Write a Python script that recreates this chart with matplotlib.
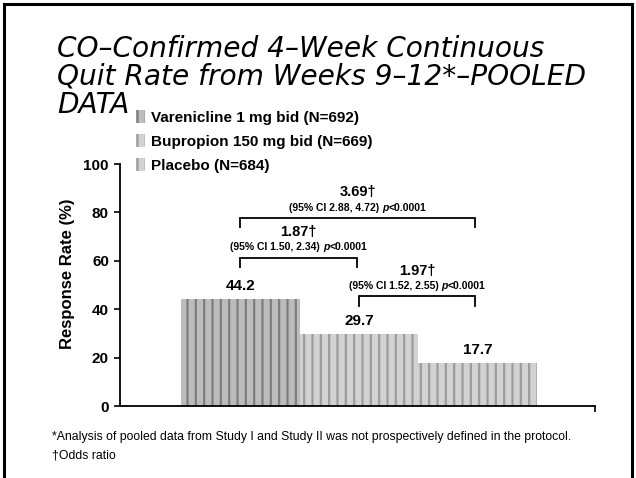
import numpy as np
import matplotlib
matplotlib.use("Agg")
import matplotlib.pyplot as plt
from matplotlib.patches import Rectangle

plt.rcParams['font.family'] = ['Liberation Sans', 'DejaVu Sans']
plt.rcParams['hatch.linewidth'] = 1.6

# data
groups = ['Varenicline 1 mg bid (N=692)', 'Bupropion 150 mg bid (N=669)', 'Placebo (N=684)']
rates = [44.2, 29.7, 17.7]
pairs = [(0, 1), (0, 2), (1, 2)]
odds = ['1.87', '3.69', '1.97']
cis = ['1.50, 2.34', '2.88, 4.72', '1.52, 2.55']
pval = '<0.0001'
yticks = [0, 20, 40, 60, 80, 100]

title_lines = ['CO\u2013Confirmed 4\u2013Week Continuous',
               'Quit Rate from Weeks 9\u201312*\u2013POOLED',
               'DATA']
note1 = '*Analysis of pooled data from Study I and Study II was not prospectively defined in the protocol.'
note2 = '\u2020Odds ratio'

W, H = 636, 478
fig = plt.figure(figsize=(W / 100, H / 100), dpi=100)
ax = fig.add_axes([120 / W, 1 - 406 / H, (595 - 120) / W, (406 - 164) / H])

face = ['#bcbcbc', '#d2d2d2', '#d2d2d2']
hatchc = ['#7e7e7e', '#9c9c9c', '#9c9c9c']
x = np.arange(len(rates))
bars = []
for i in range(len(rates)):
    b = ax.bar(x[i], rates[i], width=1.0, color=face[i], edgecolor=hatchc[i],
               hatch='||', linewidth=0)
    bars.append(b[0])
    ax.text(x[i], rates[i] + 5.3, f'{rates[i]:.1f}', ha='center', va='center',
            fontsize=11, fontweight='bold')

xmin, xmax = -1.013, 2.987
ax.set_xlim(xmin, xmax)
ax.set_ylim(0, 100)
ax.set_yticks(yticks)
ax.set_yticklabels([str(t) for t in yticks], fontsize=11, fontweight='bold')
ax.set_xticks([xmax])
ax.set_xticklabels([''])
ax.tick_params(axis='both', direction='out', length=4, width=1.2, pad=4)
for s in ['top', 'right']:
    ax.spines[s].set_visible(False)
for s in ['left', 'bottom']:
    ax.spines[s].set_linewidth(1.3)
ax.set_ylabel('Response Rate (%)', fontsize=12, fontweight='bold')
ax.yaxis.set_label_coords(-0.095, 0.545)

# odds-ratio brackets
bracket_y = [61.3, 77.8, 45.3]
renderer = fig.canvas.get_renderer()


def rich_line(xc, y, parts, size):
    objs, widths = [], []
    for s, st in parts:
        t = ax.annotate(s, (xc, y), xycoords='data', textcoords='offset pixels',
                        xytext=(0, 0), ha='left', va='center', fontsize=size,
                        fontweight='bold', fontstyle=st)
        objs.append(t)
        widths.append(t.get_window_extent(renderer).width)
    gap = 3
    total = sum(widths) + gap
    off = -total / 2
    for k, t in enumerate(objs):
        t.set_position((off, 0))
        off += widths[k] + (gap if k == 0 else 0)


for k, (i, j) in enumerate(pairs):
    xl, xr = i + 0.0, j - 0.02
    yb = bracket_y[k]
    ax.plot([xl, xl, xr, xr], [yb - 4, yb, yb, yb - 4], color='black', lw=1.3,
            solid_joinstyle='miter')
    xc = (xl + xr) / 2
    ax.text(xc, yb + 10.5, odds[k] + '\u2020', ha='center', va='center',
            fontsize=10.5, fontweight='bold')
    rich_line(xc, yb + 4.2, [(f'(95% CI {cis[k]})', 'normal'), ('p', 'italic'),
                             (pval, 'normal')], 7.5)

# title, one text per line so the legend can sit right of "DATA"
for n, line in enumerate(title_lines):
    fig.text(57 / W, 1 - (57 + 28 * n) / H, line, ha='left', va='baseline',
             fontsize=20.2, fontstyle='italic', family='DejaVu Sans')

fig.legend(handles=bars, labels=groups, loc='upper left',
           bbox_to_anchor=(136 / W, 1 - 110.5 / H), frameon=False,
           prop={'weight': 'bold', 'size': 11}, handlelength=0.6,
           handleheight=0.9, handletextpad=0.4, labelspacing=0.6,
           borderpad=0, borderaxespad=0)

fig.text(52 / W, 1 - 437 / H, note1, ha='left', va='center', fontsize=8.8)
fig.text(52 / W, 1 - 455 / H, note2, ha='left', va='center', fontsize=8.8)

fig.add_artist(Rectangle((4 / W, -0.05), (632 - 4) / W, 1 - 4 / H + 0.05,
                         transform=fig.transFigure, fill=False, lw=2.2,
                         edgecolor='black'))

fig.savefig('out.png', dpi=100)
